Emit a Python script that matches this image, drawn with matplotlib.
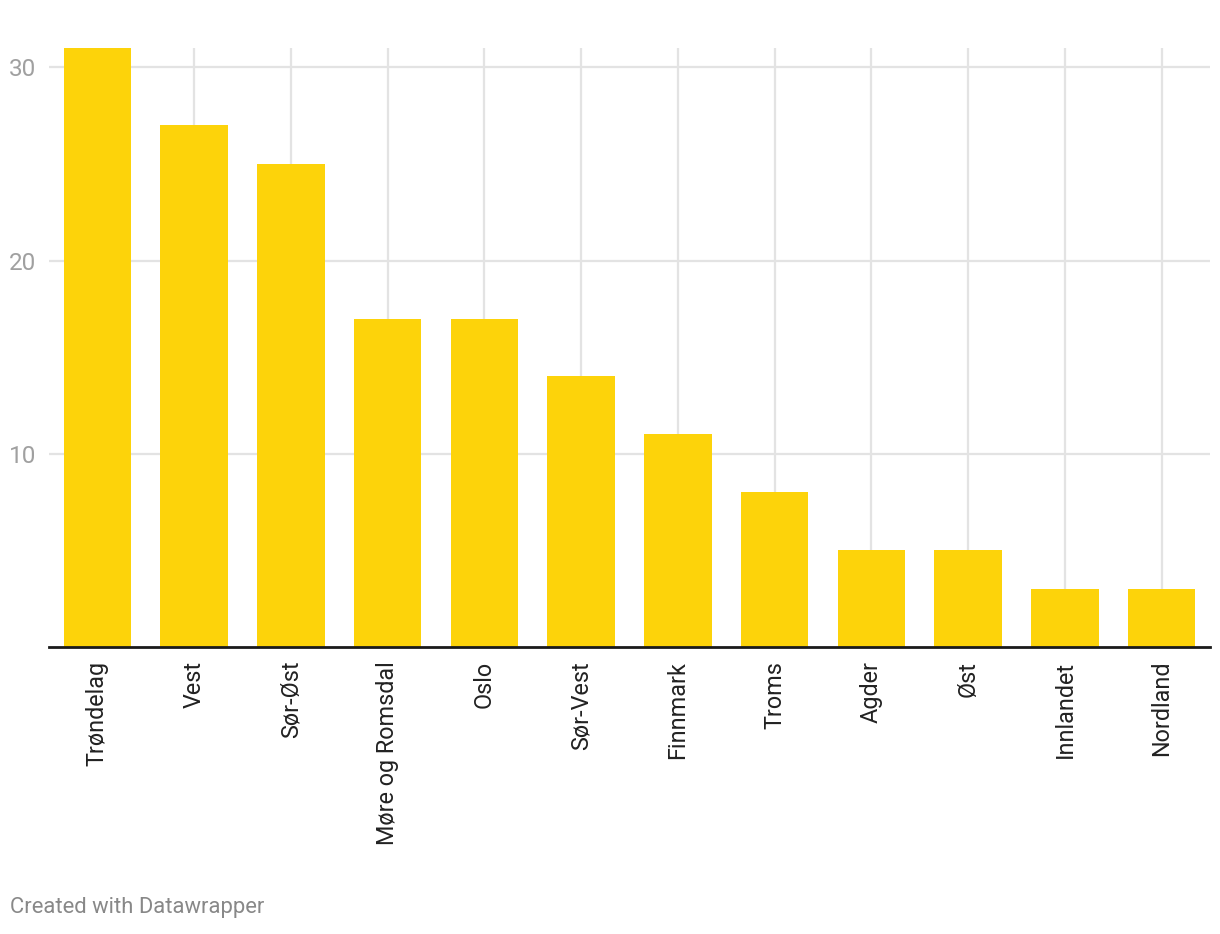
import matplotlib.pyplot as plt

regions = ["Trøndelag", "Vest", "Sør-Øst", "Møre og Romsdal", "Oslo", "Sør-Vest",
           "Finnmark", "Troms", "Agder", "Øst", "Innlandet", "Nordland"]
counts = [31, 27, 25, 17, 17, 14, 11, 8, 5, 5, 3, 3]
y_ticks = [10, 20, 30]

plt.rcParams['font.family'] = ['Roboto', 'DejaVu Sans']

fig = plt.figure(figsize=(12.2, 9.34), dpi=100)
ax = fig.add_axes([49/1220, 287/934, 1161/1220, 599/934])

x = range(len(regions))
ax.bar(x, counts, width=0.7, color="#fdd30a", zorder=2)

ax.set_xlim(-0.5, len(regions) - 0.5)
ax.set_ylim(0, 31)

ax.set_yticks(y_ticks)
ax.set_yticklabels([str(t) for t in y_ticks], fontsize=17.5, color="#a0a0a0")
ax.set_xticks(list(x))
ax.set_xticklabels(regions, rotation=90, fontsize=16.8, color="#222222",
                   va="top", ha="center")
ax.tick_params(axis="y", length=0, pad=9)
ax.tick_params(axis="x", length=0, pad=10)

ax.grid(True, color="#e3e3e3", linewidth=1.6, zorder=0)
ax.set_axisbelow(True)

for s in ["top", "right", "left"]:
    ax.spines[s].set_visible(False)
ax.spines["bottom"].set_color("#1a1a1a")
ax.spines["bottom"].set_linewidth(2)
ax.spines["bottom"].set_zorder(3)

fig.text(10/1220, 1 - 908/934, "Created with Datawrapper", fontsize=15.8,
         color="#888888", ha="left", va="center")

fig.savefig("out.png", dpi=100)
